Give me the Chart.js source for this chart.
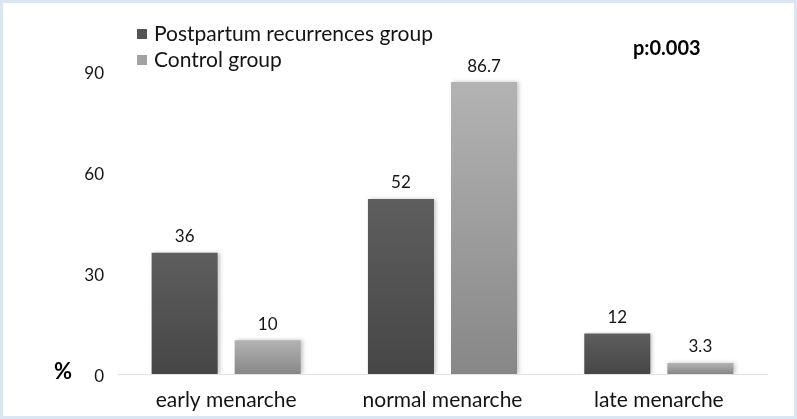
<!DOCTYPE html>
<html>
<head>
<meta charset="utf-8">
<script src="https://cdn.jsdelivr.net/npm/chart.js@4"></script>
<style>
  html, body { margin: 0; padding: 0; background: #fff; }
  #wrap { width: 797px; height: 419px; box-sizing: border-box; border: 3px solid #dce6f3; background: #fff; }
</style>
</head>
<body>
<div id="wrap"><canvas id="c" width="791" height="413"></canvas></div>
<script>
const categories = ['early menarche', 'normal menarche', 'late menarche'];
const postpartum = [36, 52, 12];
const control = [10, 86.7, 3.3];
const seriesNames = ['Postpartum recurrences group', 'Control group'];
const yTicks = [0, 30, 60, 90];
const pValue = 'p:0.003';
const yTitle = '%';

const FONT = 'Lato, Calibri, "Liberation Sans", sans-serif';
const TEXT = '#141414';

// gradient per bar, light on top, darker at the baseline
function barGradient(top, bottom) {
  return function (ctx) {
    const chart = ctx.chart;
    if (!chart.chartArea || !chart.scales.y || ctx.parsed == null) return bottom;
    const y = chart.scales.y;
    const y0 = y.getPixelForValue(ctx.parsed.y);
    const y1 = y.getPixelForValue(0);
    if (!isFinite(y0) || !isFinite(y1) || y0 === y1) return bottom;
    const g = chart.ctx.createLinearGradient(0, y0, 0, y1);
    g.addColorStop(0, top);
    g.addColorStop(1, bottom);
    return g;
  };
}

const legendSwatch = ['#545454', '#a2a2a2'];

const extras = {
  id: 'extras',
  beforeDatasetsDraw(chart) {
    const ctx = chart.ctx;
    ctx.save();
    ctx.shadowColor = 'rgba(0,0,0,0.22)';
    ctx.shadowBlur = 4;
    ctx.shadowOffsetX = 2;
    ctx.shadowOffsetY = 0;
  },
  afterDatasetsDraw(chart) {
    const ctx = chart.ctx;
    ctx.restore();

    // value labels
    ctx.save();
    ctx.font = '17px ' + FONT;
    ctx.fillStyle = TEXT;
    ctx.textAlign = 'center';
    ctx.textBaseline = 'middle';
    chart.data.datasets.forEach((ds, i) => {
      chart.getDatasetMeta(i).data.forEach((bar, j) => {
        ctx.fillText(String(ds.data[j]), bar.x, bar.y - 16);
      });
    });

    // legend
    ctx.font = '21px ' + FONT;
    ctx.textAlign = 'left';
    seriesNames.forEach((name, i) => {
      const cy = 31 + i * 26;
      ctx.fillStyle = legendSwatch[i];
      ctx.fillRect(134, cy - 5, 10, 10);
      ctx.fillStyle = TEXT;
      ctx.fillText(name, 151, cy);
    });

    // p value
    ctx.font = 'bold 20px ' + FONT;
    ctx.fillStyle = '#000';
    ctx.fillText(pValue, 630, 46);

    // axis unit
    ctx.font = 'bold 22px ' + FONT;
    ctx.fillText(yTitle, 51, 369);
    ctx.restore();
  }
};

new Chart(document.getElementById('c'), {
  type: 'bar',
  data: {
    labels: categories,
    datasets: [
      {
        label: seriesNames[0],
        data: postpartum,
        backgroundColor: barGradient('#5e5e5e', '#464646'),
        borderWidth: 0
      },
      {
        label: seriesNames[1],
        data: control,
        backgroundColor: barGradient('#b3b3b3', '#878787'),
        borderWidth: 0
      }
    ]
  },
  options: {
    responsive: false,
    animation: false,
    layout: { padding: { top: 68, right: 27, left: 0, bottom: 0 } },
    datasets: {
      bar: { categoryPercentage: 0.768, barPercentage: 0.795 }
    },
    plugins: {
      legend: { display: false },
      tooltip: { enabled: false }
    },
    scales: {
      x: {
        grid: { display: false, drawTicks: false },
        border: { display: true, color: '#e3e3e3', width: 1 },
        ticks: { color: TEXT, font: { family: FONT, size: 21 }, padding: 14 },
        afterFit(scale) { scale.height = 42; }
      },
      y: {
        min: 0,
        max: 90,
        afterBuildTicks(scale) { scale.ticks = yTicks.map(v => ({ value: v })); },
        grid: { display: false, drawTicks: false },
        border: { display: false },
        ticks: { color: TEXT, font: { family: FONT, size: 17 }, padding: 14, labelOffset: 3 },
        afterFit(scale) { scale.width = 115; }
      }
    }
  },
  plugins: [extras]
});
</script>
</body>
</html>
